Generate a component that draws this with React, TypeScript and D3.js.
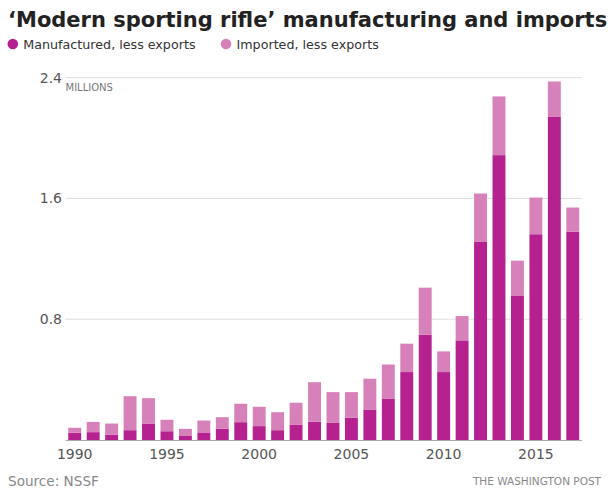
import * as d3 from 'd3';
import React, { useEffect, useRef } from 'react';

// values in millions
const years = [
  1990, 1991, 1992, 1993, 1994, 1995, 1996, 1997, 1998, 1999, 2000, 2001, 2002, 2003,
  2004, 2005, 2006, 2007, 2008, 2009, 2010, 2011, 2012, 2013, 2014, 2015, 2016, 2017,
];
const manufactured = [
  0.048, 0.052, 0.036, 0.065, 0.109, 0.058, 0.03, 0.05, 0.074, 0.118, 0.092, 0.065, 0.1, 0.122,
  0.113, 0.147, 0.202, 0.275, 0.45, 0.698, 0.45, 0.66, 1.312, 1.887, 0.954, 1.363, 2.143, 1.38,
];
const imported = [
  0.033, 0.068, 0.073, 0.225, 0.168, 0.076, 0.044, 0.079, 0.077, 0.122, 0.128, 0.119, 0.147, 0.261,
  0.204, 0.17, 0.204, 0.225, 0.188, 0.311, 0.137, 0.161, 0.321, 0.389, 0.234, 0.243, 0.232, 0.16,
];
const yTicks = [0.8, 1.6, 2.4];
const xTicks = [1990, 1995, 2000, 2005, 2010, 2015];

const DARK = '#b5218e';
const LIGHT = '#d681b9';
const FONT = '"DejaVu Sans", Verdana, sans-serif';

const App = () => {
  const svgRef = useRef<SVGSVGElement>(null);

  useEffect(() => {
    document.body.style.margin = '0';
    const svg = d3.select(svgRef.current);
    svg.selectAll('*').remove();

    const left = 65.5;
    const right = 582;
    const bottom = 440;
    const top = 77.7;

    const x = d3
      .scaleBand<number>()
      .domain(years)
      .range([left, right])
      .paddingInner(0.3)
      .paddingOuter(0.15);
    const y = d3.scaleLinear().domain([0, 2.4]).range([bottom, top]);

    // title + legend
    svg
      .append('text')
      .attr('x', 8)
      .attr('y', 27)
      .attr('font-family', FONT)
      .attr('font-weight', 'bold')
      .attr('font-size', 21)
      .attr('fill', '#222')
      .text('\u2018Modern sporting rifle\u2019 manufacturing and imports');

    const legend = [
      { label: 'Manufactured, less exports', color: DARK, x: 12.8 },
      { label: 'Imported, less exports', color: LIGHT, x: 226 },
    ];
    const lg = svg
      .append('g')
      .selectAll('g')
      .data(legend)
      .join('g')
      .attr('transform', (d) => `translate(${d.x}, 44)`);
    lg.append('circle').attr('r', 5.3).attr('fill', (d) => d.color);
    lg.append('text')
      .attr('x', 10.5)
      .attr('y', 4.5)
      .attr('font-family', FONT)
      .attr('font-size', 12.7)
      .attr('fill', '#333')
      .text((d) => d.label);

    // gridlines
    svg
      .append('g')
      .selectAll('line')
      .data(yTicks)
      .join('line')
      .attr('x1', left)
      .attr('x2', right)
      .attr('y1', (d) => y(d))
      .attr('y2', (d) => y(d))
      .attr('stroke', '#dedede')
      .attr('stroke-width', 1);

    svg
      .append('g')
      .selectAll('text')
      .data(yTicks)
      .join('text')
      .attr('x', 62)
      .attr('y', (d) => y(d) + 5)
      .attr('text-anchor', 'end')
      .attr('font-family', FONT)
      .attr('font-size', 14)
      .attr('fill', '#555')
      .text((d) => d.toFixed(1));

    svg
      .append('text')
      .attr('x', left)
      .attr('y', y(2.4) + 13)
      .attr('font-family', FONT)
      .attr('font-size', 10)
      .attr('fill', '#777')
      .text('MILLIONS');

    // stacked bars
    const rows = years.map((yr, i) => ({ year: yr, manufactured: manufactured[i], imported: imported[i] }));
    const stack = d3.stack<{ year: number; manufactured: number; imported: number }>().keys(['manufactured', 'imported']);
    const series = stack(rows);
    const colors = [DARK, LIGHT];

    svg
      .append('g')
      .selectAll('g')
      .data(series)
      .join('g')
      .attr('fill', (_, i) => colors[i])
      .selectAll('rect')
      .data((s) => s)
      .join('rect')
      .attr('x', (d) => x(d.data.year) as number)
      .attr('width', x.bandwidth())
      .attr('y', (d) => y(d[1]))
      .attr('height', (d) => y(d[0]) - y(d[1]));

    // baseline + x ticks
    svg
      .append('line')
      .attr('x1', left)
      .attr('x2', right)
      .attr('y1', bottom + 0.5)
      .attr('y2', bottom + 0.5)
      .attr('stroke', '#aaa');

    svg
      .append('g')
      .selectAll('text')
      .data(xTicks)
      .join('text')
      .attr('x', (d) => (x(d) as number) + x.bandwidth() / 2)
      .attr('y', 459)
      .attr('text-anchor', 'middle')
      .attr('font-family', FONT)
      .attr('font-size', 14)
      .attr('fill', '#555')
      .text((d) => d);

    svg
      .append('text')
      .attr('x', 8)
      .attr('y', 486)
      .attr('font-family', FONT)
      .attr('font-size', 13.6)
      .attr('fill', '#888')
      .text('Source: NSSF');

    svg
      .append('text')
      .attr('x', 601)
      .attr('y', 485)
      .attr('text-anchor', 'end')
      .attr('font-family', FONT)
      .attr('font-size', 10.5)
      .attr('fill', '#888')
      .text('THE WASHINGTON POST');
  }, []);

  return <svg ref={svgRef} width={615} height={496} style={{ display: 'block' }} />;
};

export default App;
